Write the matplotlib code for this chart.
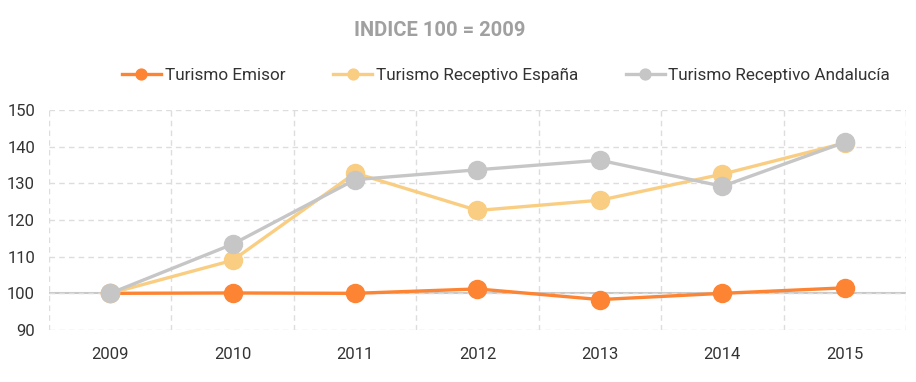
import matplotlib
matplotlib.use("Agg")
import matplotlib.pyplot as plt
from matplotlib.ticker import FixedLocator

years = ["2009", "2010", "2011", "2012", "2013", "2014", "2015"]
emisor = [100, 100.1, 100, 101.2, 98.3, 100.0, 101.5]
receptivo_espana = [100, 109, 132.8, 122.6, 125.4, 132.5, 141.0]
receptivo_andalucia = [100, 113.4, 131.0, 133.7, 136.3, 129.2, 141.2]
series_names = ["Turismo Emisor", "Turismo Receptivo España", "Turismo Receptivo Andalucía"]
colors = ["#FD8433", "#F9CE82", "#C6C6C6"]
yticks = [90, 100, 110, 120, 130, 140, 150]

plt.rcParams['font.family'] = ['Roboto', 'DejaVu Sans']

fig = plt.figure(figsize=(9.16, 3.82), dpi=100)
ax = fig.add_axes([49/916, 1-330/382, (906-49)/916, 220/382])

x = list(range(len(years)))
ax.axhline(100, color="#C8C8C8", lw=1.5, zorder=1)
for vals, name, c in zip([emisor, receptivo_espana, receptivo_andalucia], series_names, colors):
    ax.plot(x, vals, color=c, lw=2.4, marker="o", markersize=13, label=name, zorder=3)

ax.set_xlim(-0.5, len(years) - 0.5)
ax.set_ylim(90, 150)
ax.set_yticks(yticks)
ax.set_xticks(x)
ax.set_xticklabels(years)
ax.xaxis.set_minor_locator(FixedLocator([i - 0.5 for i in range(len(years) + 1)]))
ax.grid(True, which="minor", axis="x", color="#DDDDDD", ls=(0, (4, 3)), lw=1)
ax.grid(True, which="major", axis="y", color="#DDDDDD", ls=(0, (4, 3)), lw=1)
for s in ax.spines.values():
    s.set_visible(False)
ax.tick_params(axis="both", which="both", length=0, labelsize=12, colors="#333333")
ax.tick_params(axis="x", pad=12)
ax.tick_params(axis="y", pad=10)

fig.text(440/916, 1-31/382, "INDICE 100 = 2009", ha="center", va="center",
         fontsize=14.5, fontweight="bold", color="#A0A0A0")

fig.legend(loc="center", bbox_to_anchor=(506/916, 1-75/382), ncol=3, frameon=False,
           fontsize=12.3, handlelength=2.3, handletextpad=0.2, columnspacing=2.8,
           markerscale=0.6, labelcolor="#333333")

fig.savefig("out.png", dpi=100)
